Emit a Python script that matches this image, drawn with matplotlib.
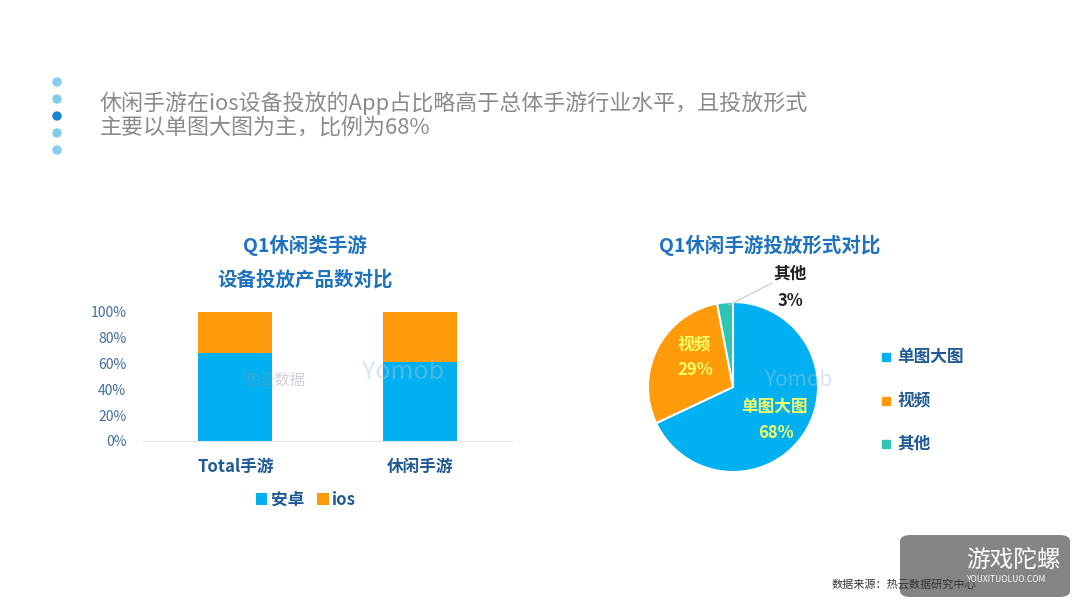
import matplotlib.pyplot as plt
from matplotlib.patches import FancyBboxPatch, Rectangle, Ellipse

plt.rcParams['font.family'] = ['Noto Sans CJK SC', 'DejaVu Sans']

# bar chart data
bar_cats = ['Total手游', '休闲手游']
android = [0.68, 0.61]
ios = [0.32, 0.39]
bar_series = ['安卓', 'ios']

# pie chart data
pie_labels = ['单图大图', '视频', '其他']
pie_values = [68, 29, 3]

W, H = 1080, 608
BLUE = '#00B0F0'
ORANGE = '#FF9A0A'
TEAL = '#2EC4B6'
TITLE_C = '#1E72BE'
TICK_C = '#3F6E9E'


def px_axes(x0, y0, x1, y1):
    # pixel box (top-left origin) -> figure axes
    return fig.add_axes([x0 / W, 1 - y1 / H, (x1 - x0) / W, (y1 - y0) / H])


fig = plt.figure(figsize=(10.8, 6.08), dpi=100)
fig.patch.set_facecolor('white')

# header bullets
for i, y in enumerate([82, 99, 116, 133, 150]):
    c = '#1A86CF' if i == 2 else '#86CCEB'
    fig.patches.append(Ellipse((57 / W, 1 - y / H), 8 / W, 8 / H, color=c,
                               transform=fig.transFigure))
fig.text(100 / W, 1 - 103 / H, '休闲手游在ios设备投放的App占比略高于总体手游行业水平，且投放形式',
         fontsize=15.8, color='#8A8A8A', va='center', ha='left')
fig.text(100 / W, 1 - 128 / H, '主要以单图大图为主，比例为68%',
         fontsize=15.8, color='#8A8A8A', va='center', ha='left')

# bar chart
ax = px_axes(143, 312, 512, 441)
x = range(len(bar_cats))
ax.bar(x, android, width=0.4, color=BLUE, label=bar_series[0])
ax.bar(x, ios, width=0.4, bottom=android, color=ORANGE, label=bar_series[1])
ax.set_xlim(-0.5, 1.5)
ax.set_ylim(0, 1)
ax.set_yticks([0, 0.2, 0.4, 0.6, 0.8, 1.0])
ax.set_yticklabels(['0%', '20%', '40%', '60%', '80%', '100%'])
ax.tick_params(axis='y', length=0, labelsize=10, labelcolor=TICK_C, pad=12)
ax.set_xticks(list(x))
ax.set_xticklabels(bar_cats)
ax.tick_params(axis='x', length=0, labelsize=12, labelcolor='#1F5A96', pad=12)
for lbl in ax.get_xticklabels():
    lbl.set_fontweight('bold')
for s in ['top', 'right', 'left']:
    ax.spines[s].set_visible(False)
ax.spines['bottom'].set_color('#E3E3E3')
ax.set_facecolor('none')

fig.text(305 / W, 1 - 245 / H, 'Q1休闲类手游', fontsize=14, fontweight='bold',
         color=TITLE_C, ha='center', va='center')
fig.text(305 / W, 1 - 280 / H, '设备投放产品数对比', fontsize=14, fontweight='bold',
         color=TITLE_C, ha='center', va='center')

leg = fig.legend(handles=[ax.containers[0][0], ax.containers[1][0]],
                 labels=bar_series, loc='center', bbox_to_anchor=(306 / W, 1 - 500 / H),
                 ncol=2, frameon=False, handlelength=0.7, handleheight=0.7,
                 handletextpad=0.2, columnspacing=0.8,
                 prop={'size': 12, 'weight': 'bold'})
for t in leg.get_texts():
    t.set_color('#1F5A96')

# pie chart
pax = px_axes(733 - 85, 387 - 85, 733 + 85, 387 + 85)
wedges, _ = pax.pie(pie_values, colors=[BLUE, ORANGE, TEAL], startangle=90,
                    counterclock=False,
                    wedgeprops={'edgecolor': 'white', 'linewidth': 1.5})
pax.set_xlim(-1, 1)
pax.set_ylim(-1, 1)
pax.set_aspect('equal')

fig.text(770 / W, 1 - 245 / H, 'Q1休闲手游投放形式对比', fontsize=14, fontweight='bold',
         color=TITLE_C, ha='center', va='center')

# slice labels
fig.text(774 / W, 1 - 407 / H, pie_labels[0], fontsize=12, fontweight='bold',
         color='#F2FF6A', ha='center', va='center')
fig.text(776 / W, 1 - 433 / H, f'{pie_values[0]}%', fontsize=12, fontweight='bold',
         color='#F2FF6A', ha='center', va='center')
fig.text(694 / W, 1 - 345 / H, pie_labels[1], fontsize=12, fontweight='bold',
         color='#FFFF66', ha='center', va='center')
fig.text(695 / W, 1 - 370 / H, f'{pie_values[1]}%', fontsize=12, fontweight='bold',
         color='#FFFF66', ha='center', va='center')
fig.text(790 / W, 1 - 274 / H, pie_labels[2], fontsize=12, fontweight='bold',
         color='#222222', ha='center', va='center')
fig.text(790 / W, 1 - 301 / H, f'{pie_values[2]}%', fontsize=12, fontweight='bold',
         color='#222222', ha='center', va='center')
fig.add_artist(plt.Line2D([729 / W, 772 / W], [1 - 305 / H, 1 - 283 / H],
                          color='#C8C8C8', linewidth=0.8))

# pie legend
for lbl, c, y in zip(pie_labels, [BLUE, ORANGE, TEAL], [357, 401, 444]):
    fig.patches.append(Rectangle((882 / W, 1 - (y + 4) / H), 8 / W, 8 / H,
                                 color=c, transform=fig.transFigure))
    fig.text(897 / W, 1 - y / H, lbl, fontsize=12, fontweight='bold',
             color='#1F5A96', ha='left', va='center')

# watermarks
fig.text(275 / W, 1 - 380 / H, '热云数据', fontsize=11, color='#8C98A4', alpha=0.45,
         ha='center', va='center')
fig.text(403 / W, 1 - 372 / H, 'Yomob', fontsize=18, color='#A8C4E0', alpha=0.45,
         ha='center', va='center')
fig.text(798 / W, 1 - 380 / H, 'Yomob', fontsize=15, color='#A8C4E0', alpha=0.45,
         ha='center', va='center')

# source
fig.text(832 / W, 1 - 584 / H, '数据来源：热云数据研究中心', fontsize=8, color='#333333',
         ha='left', va='center')

# bottom-right site badge
fig.patches.append(FancyBboxPatch((900 / W, 1 - 597 / H), 170 / W, 62 / H,
                                  boxstyle='round,pad=0,rounding_size=0.01',
                                  facecolor='#6E6E6E', edgecolor='none', alpha=0.85,
                                  transform=fig.transFigure))
fig.text(966 / W, 1 - 560 / H, '游戏陀螺', fontsize=17, color='white',
         ha='left', va='center')
fig.text(967 / W, 1 - 580 / H, 'YOUXITUOLUO.COM', fontsize=6, color='white',
         ha='left', va='center')

fig.savefig('out.png', dpi=100, facecolor='white')
